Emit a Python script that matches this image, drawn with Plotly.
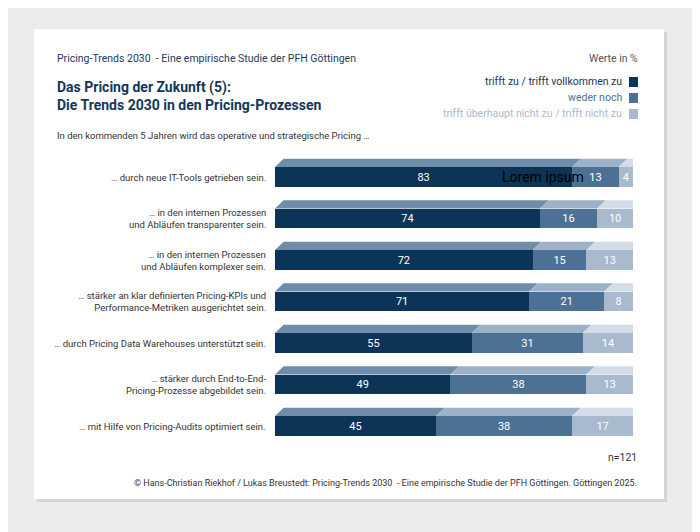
import plotly.graph_objects as go

labels = ["… durch neue IT-Tools getrieben sein.",
          "… in den internen Prozessen<br>und Abläufen transparenter sein.",
          "… in den internen Prozessen<br>und Abläufen komplexer sein.",
          "… stärker an klar definierten Pricing-KPIs und<br>Performance-Metriken ausgerichtet sein.",
          "… durch Pricing Data Warehouses unterstützt sein.",
          "… stärker durch End-to-End-<br>Pricing-Prozesse abgebildet sein.",
          "… mit Hilfe von Pricing-Audits optimiert sein."]
agree = [83, 74, 72, 71, 55, 49, 45]
neutral = [13, 16, 15, 21, 31, 38, 38]
disagree = [4, 10, 13, 8, 14, 13, 17]
series_names = ["trifft zu / trifft vollkommen zu", "weder noch", "trifft überhaupt nicht zu / trifft nicht zu"]

colors = ["#0b3457", "#4c7195", "#a9bace"]
tops = ["#6f8dab", "#9db2c8", "#d3dce7"]
side = "#e1e7ef"
FONT = "Liberation Sans Narrow, Roboto, sans-serif"

OFF = 8  # page offset of the figure
L, R, T, B = 275 - OFF, 633 - OFF, 145 - OFF, 450 - OFF
W, H = 700, 532
def px(x, y):
    x -= OFF; y -= OFF
    return (x - L) / (R - L), (B - y) / (B - T)

rows = list(range(len(labels)))
fig = go.Figure()
for vals, c, name in zip([agree, neutral, disagree], colors, series_names):
    fig.add_trace(go.Bar(y=rows, x=vals, orientation="h", marker=dict(color=c, line_width=0),
                         width=0.48, name=name, text=[str(v) for v in vals],
                         textposition="inside", insidetextanchor="middle",
                         textfont=dict(color="white", size=11, family=FONT), showlegend=False))

shapes = []
x0, y0 = px(37, 32); x1, y1 = px(667, 502)
shapes.append(dict(type="rect", xref="paper", yref="paper", x0=x0, y0=y0, x1=x1, y1=y1,
                   fillcolor="#d4d4d4", line_width=0, layer="below"))
x0, y0 = px(34, 29); x1, y1 = px(664, 499)
shapes.append(dict(type="rect", xref="paper", yref="paper", x0=x0, y0=y0, x1=x1, y1=y1,
                   fillcolor="white", line_width=0, layer="below"))

dx, dy = 2.4, 0.2
hw = 0.24
for i in rows:
    start = 0
    segs = [agree[i], neutral[i], disagree[i]]
    for j, v in enumerate(segs):
        a, b = start, start + v
        yt = i - hw
        shapes.append(dict(type="path", xref="x", yref="y", line_width=0, fillcolor=tops[j],
                           path=f"M {a},{yt} L {b},{yt} L {b+dx},{yt-dy} L {a+dx},{yt-dy} Z"))
        start = b
    shapes.append(dict(type="path", xref="x", yref="y", line_width=0, fillcolor=side,
                       path=f"M {start},{i-hw} L {start+dx},{i-hw-dy} L {start+dx},{i+hw-dy} L {start},{i+hw} Z"))

ann = []
for i, lab in enumerate(labels):
    ann.append(dict(x=-0.02, xref="paper", y=i, yref="y", text=lab, showarrow=False,
                    xanchor="right", align="right", font=dict(size=9.5, color="#333", family=FONT)))

def txt(x, y, s, size, color, anchor="left", bold=False):
    xp, yp = px(x, y)
    if bold:
        s = "<b>" + s + "</b>"
    ann.append(dict(x=xp, y=yp, xref="paper", yref="paper", text=s, showarrow=False,
                    xanchor=anchor, yanchor="middle", align=anchor,
                    font=dict(size=size, color=color, family=FONT)))

txt(55, 59, "Pricing-Trends 2030  - Eine empirische Studie der PFH Göttingen", 10.5, "#1f3a5a")
txt(55, 96, "Das Pricing der Zukunft (5):<br>Die Trends 2030 in den Pricing-Prozessen", 14, "#14365a", bold=True)
txt(55, 136, "In den kommenden 5 Jahren wird das operative und strategische Pricing …", 9.5, "#333")
txt(640, 59, "Werte in %", 10.5, "#555", "right")
leg_y = [82, 98, 114]
lcol = ["#0b3457", "#4c7195", "#a9bace"]
tcol = ["#14365a", "#4c7195", "#a9bace"]
for name, y, c, tc in zip(series_names, leg_y, lcol, tcol):
    txt(624, y, name, 10.5, tc, "right")
    a0, b0 = px(629, y + 5); a1, b1 = px(638, y - 5)
    shapes.append(dict(type="rect", xref="paper", yref="paper", x0=a0, y0=b0, x1=a1, y1=b1,
                       fillcolor=c, line_width=0))
txt(639, 457, "n=121", 10.5, "#333", "right")
txt(639, 483, "© Hans-Christian Riekhof / Lukas Breustedt: Pricing-Trends 2030  - Eine empirische Studie der PFH Göttingen. Göttingen 2025.", 9, "#333", "right")
txt(500, 177, "Lorem ipsum", 14, "black", "left")

fig.update_layout(
    barmode="stack", width=W, height=H, margin=dict(l=L, r=W - R, t=T, b=H - B, pad=0),
    paper_bgcolor="#ececec", plot_bgcolor="rgba(0,0,0,0)",
    xaxis=dict(range=[0, 100], visible=False, fixedrange=True),
    yaxis=dict(range=[6.578, -0.771], visible=False),
    shapes=shapes, annotations=ann, showlegend=False, bargap=0.5,
)
fig.write_html("out.html")
